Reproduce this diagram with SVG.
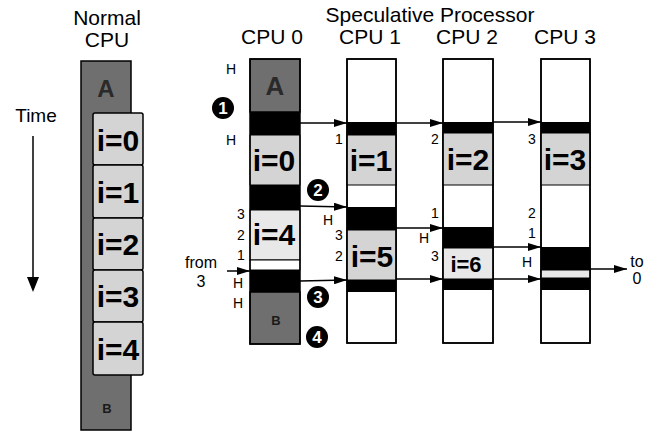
<svg xmlns="http://www.w3.org/2000/svg" width="645" height="432" viewBox="0 0 645 432">
<style>
text{font-family:"Liberation Sans",Arial,sans-serif;fill:#000}
.hd{font-size:21px;text-anchor:middle}
.big{font-size:30px;font-weight:bold;text-anchor:middle;dominant-baseline:central}
.sm{font-size:14px;text-anchor:middle;dominant-baseline:central}
.dk{fill:#6f6f6f;stroke:#000;stroke-width:1.5}
.lt{fill:#d4d4d4;stroke:#000;stroke-width:1}
.ltd{fill:#e8e8e8;stroke:#000;stroke-width:1}
.wh{fill:#fff;stroke:#000;stroke-width:1.5}
.bk{fill:#000}
.col{fill:none;stroke:#000;stroke-width:1.5}
.ar{stroke:#000;stroke-width:1.5;fill:none;marker-end:url(#ah)}
.cn{fill:#000}
.cnt{fill:#fff;font-size:17px;font-weight:bold;text-anchor:middle;dominant-baseline:central}
.io{font-size:16px;text-anchor:middle}
</style>
<defs>
<marker id="ah" markerWidth="13" markerHeight="8" refX="13" refY="4" orient="auto" markerUnits="userSpaceOnUse">
<path d="M0,0 L13,4 L0,8 Z" fill="#000"/>
</marker>
</defs>

<g id="headers">
<text class="hd" x="107" y="25">Normal</text>
<text class="hd" x="107" y="47">CPU</text>
<text class="hd" x="430" y="22">Speculative Processor</text>
<text class="hd" x="272" y="44">CPU 0</text>
<text class="hd" x="370" y="44">CPU 1</text>
<text class="hd" x="467" y="44">CPU 2</text>
<text class="hd" x="565" y="44">CPU 3</text>
</g>

<g id="time">
<text x="36" y="122" style="font-size:19px;text-anchor:middle">Time</text>
<line x1="33" y1="136" x2="33" y2="278" stroke="#000" stroke-width="1.5"/>
<path d="M27,277 L39,277 L33,292 Z" fill="#000"/>
</g>

<g id="normal-cpu">
<rect class="dk" x="81" y="61" width="50" height="369"/>
<text x="106" y="88" style="font-size:24px;font-weight:bold;text-anchor:middle;dominant-baseline:central;fill:#2a2a2a">A</text>
<text x="107" y="408" style="font-size:13px;font-weight:bold;text-anchor:middle;dominant-baseline:central;fill:#1a1a1a">B</text>
<rect class="lt" x="93" y="113" width="50" height="52" rx="2" style="stroke-width:1.5"/>
<rect class="lt" x="93" y="165" width="50" height="53" rx="2" style="stroke-width:1.5"/>
<rect class="lt" x="93" y="218" width="50" height="52" rx="2" style="stroke-width:1.5"/>
<rect class="lt" x="93" y="270" width="50" height="52" rx="2" style="stroke-width:1.5"/>
<rect class="lt" x="93" y="322" width="50" height="53" rx="2" style="stroke-width:1.5"/>
<text class="big" x="118" y="140">i=0</text>
<text class="big" x="118" y="192">i=1</text>
<text class="big" x="118" y="244">i=2</text>
<text class="big" x="118" y="296">i=3</text>
<text class="big" x="118" y="349">i=4</text>
</g>

<g id="cpu0">
<rect class="dk" x="250" y="59" width="50" height="53"/>
<text x="275" y="86" style="font-size:26px;font-weight:bold;text-anchor:middle;dominant-baseline:central;fill:#2a2a2a">A</text>
<rect class="bk" x="250" y="112" width="50" height="23"/>
<rect class="lt" x="250" y="135" width="50" height="50"/>
<text class="big" x="274" y="160">i=0</text>
<rect class="bk" x="250" y="185" width="50" height="25"/>
<rect class="ltd" x="250" y="210" width="50" height="50"/>
<text class="big" x="274" y="234">i=4</text>
<rect class="wh" x="250" y="260" width="50" height="10" style="stroke-width:1"/>
<rect class="bk" x="250" y="270" width="50" height="22"/>
<rect class="dk" x="250" y="292" width="50" height="52"/>
<text x="276" y="320" style="font-size:13px;font-weight:bold;text-anchor:middle;dominant-baseline:central;fill:#1a1a1a">B</text>
<rect class="col" x="250" y="59" width="50" height="285"/>
<text class="sm" x="231" y="69">H</text>
<text class="sm" x="231" y="140">H</text>
<text class="sm" x="241" y="214">3</text>
<text class="sm" x="241" y="235">2</text>
<text class="sm" x="241" y="255">1</text>
<text class="sm" x="238" y="283">H</text>
<text class="sm" x="238" y="303">H</text>
</g>

<g id="cpu1">
<rect class="wh" x="347" y="59" width="49" height="284"/>
<rect class="bk" x="347" y="122" width="49" height="13"/>
<rect class="lt" x="347" y="135" width="49" height="50"/>
<text class="big" x="371" y="160">i=1</text>
<rect class="bk" x="347" y="207" width="49" height="23"/>
<rect class="lt" x="347" y="230" width="49" height="50"/>
<text class="big" x="372" y="256">i=5</text>
<rect class="bk" x="347" y="280" width="49" height="12"/>
<rect class="col" x="347" y="59" width="49" height="284"/>
<text class="sm" x="339" y="139">1</text>
<text class="sm" x="328" y="220">H</text>
<text class="sm" x="339" y="235">3</text>
<text class="sm" x="339" y="256">2</text>
</g>

<g id="cpu2">
<rect class="wh" x="443" y="59" width="50" height="284"/>
<rect class="bk" x="443" y="122" width="50" height="11"/>
<rect class="lt" x="443" y="133" width="50" height="52"/>
<text class="big" x="468" y="159">i=2</text>
<rect class="bk" x="443" y="227" width="50" height="21"/>
<rect class="ltd" x="443" y="248" width="50" height="31"/>
<text x="466" y="264" style="font-size:22px;font-weight:bold;text-anchor:middle;dominant-baseline:central">i=6</text>
<rect class="bk" x="443" y="279" width="50" height="11"/>
<rect class="col" x="443" y="59" width="50" height="284"/>
<text class="sm" x="435" y="139">2</text>
<text class="sm" x="435" y="213">1</text>
<text class="sm" x="424" y="238">H</text>
<text class="sm" x="435" y="256">3</text>
</g>

<g id="cpu3">
<rect class="wh" x="541" y="59" width="49" height="284"/>
<rect class="bk" x="541" y="122" width="49" height="11"/>
<rect class="lt" x="541" y="133" width="49" height="52"/>
<text class="big" x="565" y="159">i=3</text>
<rect class="bk" x="541" y="247" width="49" height="23"/>
<rect class="ltd" x="541" y="270" width="49" height="8"/>
<rect class="bk" x="541" y="278" width="49" height="12"/>
<rect class="col" x="541" y="59" width="49" height="284"/>
<text class="sm" x="532" y="139">3</text>
<text class="sm" x="532" y="213">2</text>
<text class="sm" x="532" y="233">1</text>
<text class="sm" x="527" y="262">H</text>
</g>

<g id="steps">
<circle class="cn" cx="223" cy="108" r="11"/><text class="cnt" x="223" y="108">1</text>
<circle class="cn" cx="318" cy="190" r="11"/><text class="cnt" x="318" y="190">2</text>
<circle class="cn" cx="318" cy="297" r="11"/><text class="cnt" x="318" y="297">3</text>
<circle class="cn" cx="317" cy="337" r="11"/><text class="cnt" x="317" y="337">4</text>
</g>

<g id="io-labels">
<text class="io" x="201" y="268">from</text>
<text class="io" x="201" y="287">3</text>
<text class="io" x="637" y="267">to</text>
<text class="io" x="637" y="284">0</text>
</g>

<g id="connectors">
<line class="ar" x1="300" y1="123" x2="347" y2="123"/>
<line class="ar" x1="396" y1="123" x2="443" y2="123"/>
<line class="ar" x1="493" y1="122" x2="541" y2="122"/>
<line class="ar" x1="300" y1="206" x2="347" y2="207"/>
<line class="ar" x1="396" y1="228" x2="443" y2="228"/>
<line class="ar" x1="493" y1="247" x2="541" y2="247"/>
<line class="ar" x1="300" y1="281" x2="347" y2="280"/>
<line class="ar" x1="396" y1="279" x2="443" y2="279"/>
<line class="ar" x1="493" y1="279" x2="541" y2="279"/>
<line class="ar" x1="227" y1="271" x2="250" y2="271"/>
<line class="ar" x1="590" y1="269" x2="627" y2="269"/>
</g>
</svg>
